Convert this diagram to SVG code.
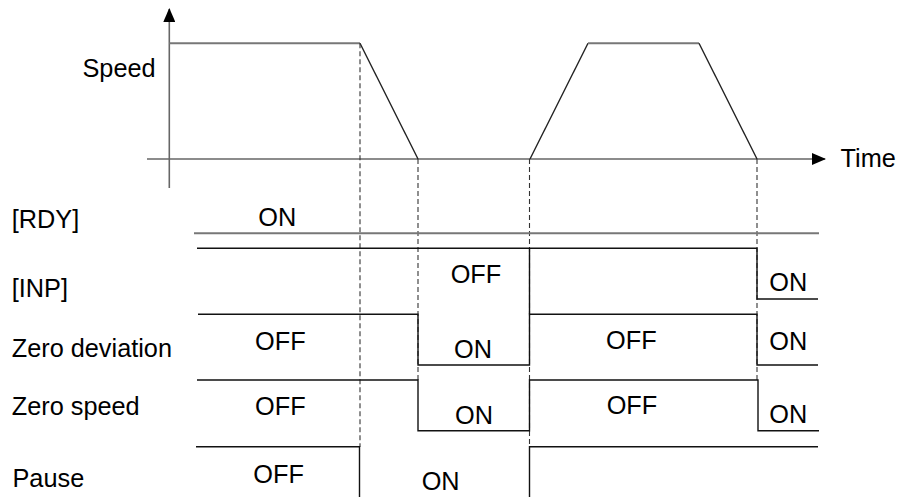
<svg xmlns="http://www.w3.org/2000/svg" width="898" height="497" viewBox="0 0 898 497">
<style>
text{font-family:"Liberation Sans",Arial,sans-serif;font-size:25.3px;fill:#000}
.ax{stroke:#666;stroke-width:1.6;fill:none}
.sp{stroke:#222;stroke-width:1.4;fill:none;stroke-linejoin:miter}
.sig{stroke:#111;stroke-width:1.4;fill:none}
.gry{stroke:#777;stroke-width:2;fill:none}
.dash{stroke:#333;stroke-width:1.1;stroke-dasharray:5 3;fill:none}
</style>
<defs>
<marker id="ah" viewBox="0 0 14 12" refX="13" refY="6" markerWidth="14" markerHeight="12" markerUnits="userSpaceOnUse" orient="auto">
<path d="M0,0 L14,6 L0,12 Z" fill="#000"/>
</marker>
</defs>
<rect width="898" height="497" fill="#fff"/>
<g id="axes">
<line class="ax" x1="169.3" y1="188" x2="169.3" y2="9" marker-end="url(#ah)"/>
<line class="ax" x1="147" y1="159" x2="825" y2="159" marker-end="url(#ah)"/>
<text x="82.5" y="76.7">Speed</text>
<text x="840.5" y="166.7">Time</text>
</g>
<g id="speed-profile">
<polyline class="gry" points="169.3,43.3 360,43.3"/>
<polyline class="sp" points="360,43.3 418,159"/>
<polyline class="sp" points="530,159 588,43.3"/>
<polyline class="gry" points="588,43.3 699,43.3"/>
<polyline class="sp" points="699,43.3 757,159"/>
</g>
<g id="connectors">
<line class="dash" x1="360" y1="43.3" x2="360" y2="447"/>
<line class="dash" x1="418" y1="159" x2="418" y2="380"/>
<line class="dash" x1="529.5" y1="159" x2="529.5" y2="447"/>
<line class="dash" x1="757" y1="159" x2="757" y2="380"/>
</g>
<g id="rdy">
<text x="11.7" y="227.5">[RDY]</text>
<line class="gry" x1="194" y1="233.3" x2="819" y2="233.3"/>
<text x="258.3" y="226">ON</text>
</g>
<g id="inp">
<text x="11.7" y="296.5">[INP]</text>
<polyline class="sig" points="197,248.3 757,248.3 757,299 818,299"/>
<line class="sig" x1="529.5" y1="248.3" x2="529.5" y2="314.3"/>
<text x="450.7" y="283">OFF</text>
<text x="769.3" y="290.5">ON</text>
</g>
<g id="zero-deviation">
<text x="11.7" y="357">Zero deviation</text>
<polyline class="sig" points="198,314.3 418,314.3 418,365 529.5,365 529.5,314.3 757,314.3 757,365 818,365"/>
<text x="255" y="350">OFF</text>
<text x="454" y="358">ON</text>
<text x="606" y="349">OFF</text>
<text x="769.3" y="350">ON</text>
</g>
<g id="zero-speed">
<text x="11.7" y="414.5">Zero speed</text>
<polyline class="sig" points="197,380 418,380 418,430.7 529.5,430.7 529.5,380 758,380 758,430.7 819,430.7"/>
<text x="255" y="415">OFF</text>
<text x="455" y="424">ON</text>
<text x="606.7" y="414">OFF</text>
<text x="769.3" y="422.7">ON</text>
</g>
<g id="pause">
<text x="12.5" y="486.5">Pause</text>
<polyline class="sig" points="196,446.7 359.5,446.7 359.5,497"/>
<polyline class="sig" points="529.5,497 529.5,446.7 818,446.7"/>
<text x="253.3" y="483">OFF</text>
<text x="421.7" y="490">ON</text>
</g>
</svg>
